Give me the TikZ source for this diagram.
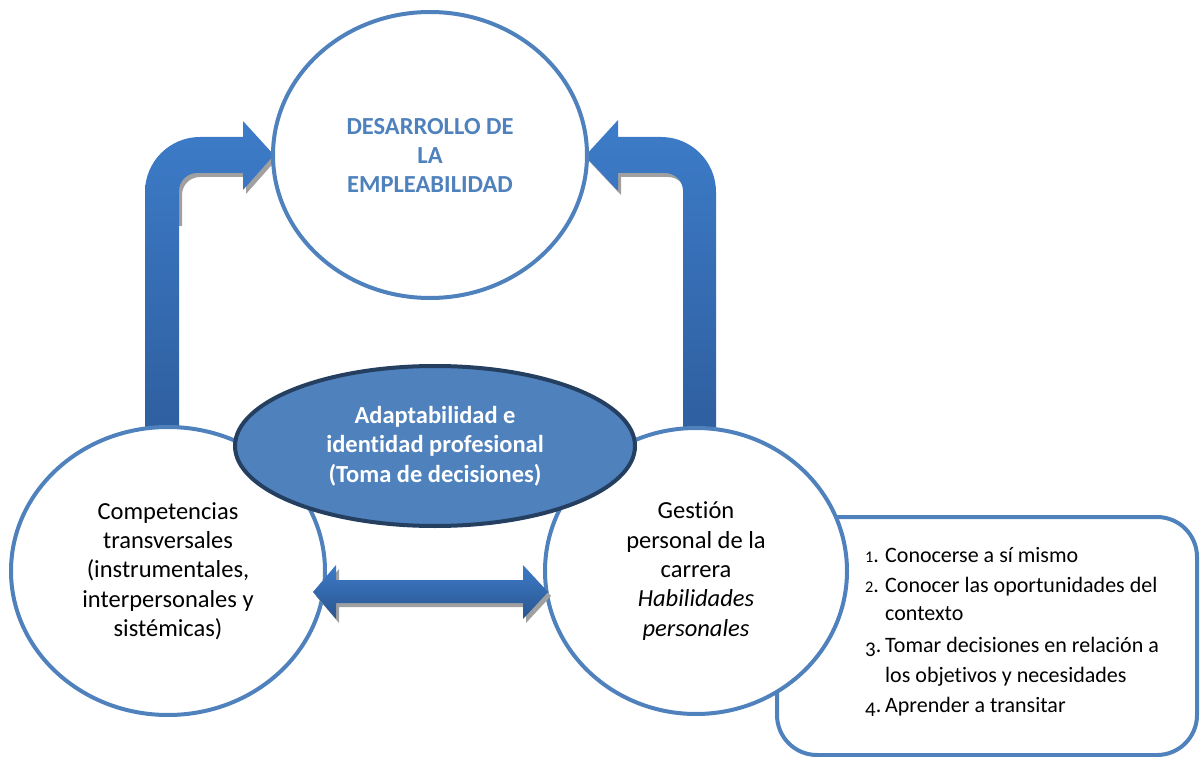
\documentclass[tikz,border=0pt]{standalone}
\usepackage{fontspec}
\setmainfont[Ligatures=NoCommon]{Carlito}
\newfontfamily\listfont[Ligatures=NoCommon]{Carlito}
\usetikzlibrary{shapes.geometric}
\definecolor{cblue}{HTML}{4F81BD}
\definecolor{cnavy}{HTML}{243F60}
\definecolor{atop}{HTML}{3D7CC9}
\definecolor{abot}{HTML}{2E5E9E}
\definecolor{shad}{HTML}{A0A0A0}
\newcommand{\osone}[1]{\scalebox{0.74}{#1}}
\newcommand{\osthree}[1]{\raisebox{-0.2em}{\scalebox{0.95}{#1}}}
\begin{document}
\begin{tikzpicture}[x=1pt,y=-1pt,
  circ/.style={ellipse, draw=cblue, line width=4pt, fill=white, inner sep=0pt, align=center,
    font=\fontsize{24.5}{29.3}\selectfont},
  central/.style={ellipse, draw=cnavy, line width=4pt, fill=cblue, inner sep=0pt, align=center,
    text=white, font=\fontsize{24.5}{29.5}\selectfont\bfseries},
  listbox/.style={draw=cblue, line width=4pt, rounded corners=40pt, fill=white, inner sep=0pt},
  listline/.style={anchor=base west, inner sep=0pt, font=\listfont\fontsize{22}{30}\selectfont},
  arrowfill/.style={top color=atop, bottom color=abot},
  arrowshadow/.style={fill=shad}
]
\useasboundingbox (0,0) rectangle (1200,757);

% list box
\node[listbox, minimum width=420pt, minimum height=238pt] (box) at (987,636) {};
\node[listline] (l1) at (865,562) {\makebox[20pt][l]{\osone{1}.}Conocerse a sí mismo};
\node[listline] (l2) at (865,592) {\makebox[20pt][l]{\osone{2}.}Conocer las oportunidades del};
\node[listline] (l3) at (865,620) {\makebox[20pt][l]{}contexto};
\node[listline] (l4) at (865,652) {\makebox[20pt][l]{\osthree{3}.}Tomar decisiones en relación a};
\node[listline] (l5) at (865,682) {\makebox[20pt][l]{}los objetivos y necesidades};
\node[listline] (l6) at (865,712) {\makebox[20pt][l]{\osthree{4}.}Aprender a transitar};

% bent arrows: shadows (only below the horizontal parts)
\begin{scope}
\clip (140,150) rectangle (300,225);
\fill[arrowshadow, shift={(3,4)}] (145,440) -- (145,192) .. controls (145,161.6) and (169.6,137) .. (200,137)
  -- (243,137) -- (243,121) -- (274,155) -- (243,190) -- (243,173) -- (197,173)
  .. controls (187,173) and (179,181) .. (179,191) -- (179,440) -- cycle;
\end{scope}
\begin{scope}
\clip (570,150) rectangle (700,225);
\fill[arrowshadow, shift={(3,4)}] (716,440) -- (716,192) .. controls (716,161.6) and (691.4,137) .. (661,137)
  -- (618,137) -- (618,120) -- (585,156) -- (618,191) -- (618,173) -- (665,173)
  .. controls (675,173) and (683,181) .. (683,191) -- (683,440) -- cycle;
\end{scope}
% bent arrows
\shade[arrowfill] (145,440) -- (145,192) .. controls (145,161.6) and (169.6,137) .. (200,137)
  -- (243,137) -- (243,121) -- (274,155) -- (243,190) -- (243,173) -- (197,173)
  .. controls (187,173) and (179,181) .. (179,191) -- (179,440) -- cycle;
\shade[arrowfill] (716,440) -- (716,192) .. controls (716,161.6) and (691.4,137) .. (661,137)
  -- (618,137) -- (618,120) -- (585,156) -- (618,191) -- (618,173) -- (665,173)
  .. controls (675,173) and (683,181) .. (683,191) -- (683,440) -- cycle;

% circles
\node[circ, minimum width=314pt, minimum height=286pt, text=cblue,
  font=\fontsize{24.5}{29}\selectfont\bfseries] (top) at (430,155)
  {DESARROLLO DE\\LA\\EMPLEABILIDAD};
\node[circ, minimum width=314pt, minimum height=288pt] (left) at (168,571)
  {Competencias\\transversales\\(instrumentales,\\interpersonales y\\sistémicas)};
\node[circ, minimum width=302pt, minimum height=286pt] (right) at (696,571)
  {Gestión\\personal de la\\carrera\\\textit{Habilidades}\\\textit{personales}};

% central ellipse
\node[central, minimum width=400pt, minimum height=160pt] (mid) at (435,446)
  {Adaptabilidad e\\identidad profesional\\(Toma de decisiones)};

% double arrow
\fill[arrowshadow, shift={(3,4)}] (313,592) -- (336,565) -- (336,580) -- (523,580) -- (523,565)
  -- (548,592) -- (523,619) -- (523,603) -- (336,603) -- (336,619) -- cycle;
\shade[top color=atop, bottom color=abot!90!black] (313,592) -- (336,565) -- (336,580) -- (523,580) -- (523,565)
  -- (548,592) -- (523,619) -- (523,603) -- (336,603) -- (336,619) -- cycle;
\end{tikzpicture}
\end{document}
